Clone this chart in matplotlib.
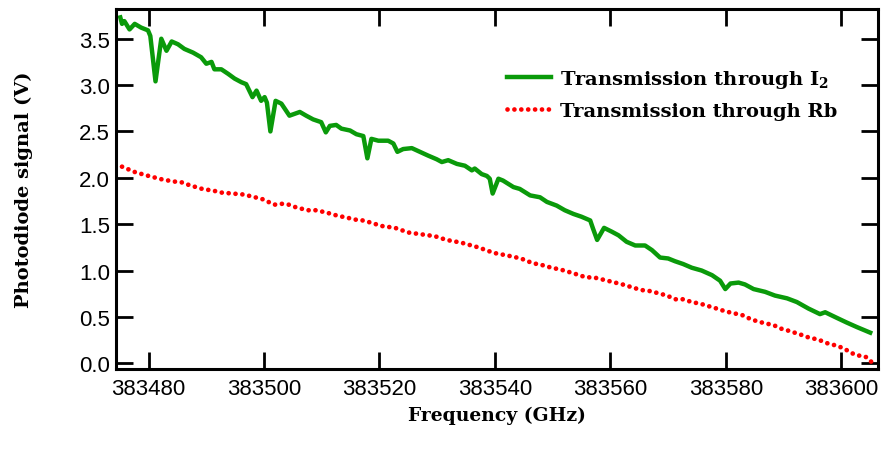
import matplotlib
matplotlib.use("Agg")
import matplotlib.pyplot as plt

# I2 transmission trace (GHz, V)
freq_i2 = [383475.1, 383475.4, 383475.8, 383476.7, 383477.6, 383478.7, 383479.9, 383480.3,
           383481.2, 383482.2, 383483.1, 383484.0, 383485.1, 383486.2, 383487.7, 383489.1,
           383490.0, 383490.9, 383491.4, 383492.6, 383493.8, 383494.9, 383496.1, 383496.9,
           383498.0, 383498.7, 383499.5, 383500.1, 383500.5, 383501.1, 383502.0, 383503.0,
           383504.4, 383506.2, 383507.3, 383508.5, 383509.9, 383510.7, 383511.4, 383512.5,
           383513.4, 383514.9, 383516.0, 383517.2, 383517.9, 383518.6, 383519.8, 383521.5,
           383522.4, 383523.1, 383524.1, 383525.6, 383527.0, 383528.4, 383529.9, 383530.8,
           383531.9, 383533.4, 383534.8, 383536.0, 383536.5, 383537.7, 383538.6, 383539.1,
           383539.6, 383540.6, 383541.4, 383543.2, 383544.3, 383546.1, 383547.8, 383549.0,
           383550.7, 383552.1, 383553.6, 383555.0, 383556.5, 383557.0, 383557.7, 383558.9,
           383560.2, 383561.4, 383562.8, 383564.3, 383566.0, 383567.2, 383568.6, 383570.0,
           383571.2, 383572.6, 383574.1, 383575.8, 383577.6, 383579.0, 383579.9, 383580.8,
           383582.2, 383583.3, 383584.8, 383586.8, 383588.5, 383590.6, 383592.3, 383594.3,
           383596.3, 383597.2, 383599.2, 383600.9, 383602.7, 383605.0]
sig_i2 = [3.73, 3.66, 3.69, 3.60, 3.66, 3.62, 3.59, 3.53,
          3.04, 3.50, 3.37, 3.47, 3.44, 3.39, 3.35, 3.30,
          3.23, 3.25, 3.17, 3.17, 3.12, 3.07, 3.03, 3.01,
          2.87, 2.94, 2.83, 2.87, 2.81, 2.50, 2.83, 2.80,
          2.67, 2.71, 2.67, 2.63, 2.60, 2.49, 2.56, 2.57,
          2.53, 2.51, 2.47, 2.45, 2.21, 2.42, 2.40, 2.40,
          2.37, 2.28, 2.31, 2.32, 2.28, 2.24, 2.20, 2.17,
          2.19, 2.15, 2.13, 2.08, 2.10, 2.04, 2.02, 1.99,
          1.83, 1.99, 1.97, 1.90, 1.88, 1.81, 1.79, 1.74,
          1.70, 1.65, 1.61, 1.58, 1.54, 1.45, 1.33, 1.46,
          1.42, 1.38, 1.31, 1.27, 1.27, 1.22, 1.14, 1.13,
          1.10, 1.07, 1.03, 1.00, 0.95, 0.89, 0.80, 0.86,
          0.87, 0.85, 0.80, 0.77, 0.73, 0.70, 0.66, 0.59,
          0.53, 0.55, 0.49, 0.44, 0.39, 0.33]

# Rb transmission trace (GHz, V)
freq_rb = [383475.4, 383477.7, 383480.0, 383482.5, 383484.4, 383485.8, 383487.1, 383489.3,
           383491.3, 383492.7, 383494.6, 383496.4, 383497.8, 383499.7, 383501.8, 383503.0,
           383504.3, 383505.6, 383507.6, 383509.1, 383511.1, 383512.8, 383514.4, 383515.7,
           383517.1, 383518.3, 383520.4, 383522.7, 383525.0, 383527.3, 383529.6, 383531.6,
           383534.2, 383537.1, 383539.8, 383542.3, 383544.5, 383546.5, 383548.1, 383549.8,
           383551.4, 383553.6, 383555.6, 383557.5, 383559.5, 383560.8, 383562.1, 383563.7,
           383565.3, 383566.7, 383568.0, 383569.8, 383571.2, 383572.6, 383574.1, 383575.7,
           383577.3, 383578.4, 383579.9, 383581.3, 383582.8, 383584.5, 383586.2, 383588.3,
           383589.7, 383590.9, 383592.9, 383594.7, 383595.8, 383597.8, 383599.2, 383600.4,
           383602.4, 383604.2, 383605.3]
sig_rb = [2.12, 2.06, 2.02, 1.98, 1.96, 1.95, 1.92, 1.88,
          1.86, 1.84, 1.83, 1.82, 1.80, 1.77, 1.71, 1.72,
          1.71, 1.68, 1.65, 1.65, 1.62, 1.59, 1.57, 1.55,
          1.54, 1.52, 1.48, 1.46, 1.41, 1.39, 1.37, 1.33,
          1.30, 1.25, 1.19, 1.16, 1.13, 1.08, 1.06, 1.03,
          1.01, 0.97, 0.93, 0.92, 0.89, 0.87, 0.85, 0.82,
          0.79, 0.78, 0.76, 0.73, 0.69, 0.69, 0.66, 0.64,
          0.61, 0.59, 0.56, 0.54, 0.52, 0.47, 0.44, 0.41,
          0.37, 0.35, 0.31, 0.27, 0.26, 0.21, 0.19, 0.16,
          0.09, 0.07, 0.01]

xticks = [383480, 383500, 383520, 383540, 383560, 383580, 383600]
yticks = [0.0, 0.5, 1.0, 1.5, 2.0, 2.5, 3.0, 3.5]

plt.rcParams['mathtext.fontset'] = 'dejavuserif'

fig = plt.figure(figsize=(8.83, 4.56), dpi=100)
ax = fig.add_axes([0.131, 0.189, 0.863, 0.789])

ax.plot(freq_i2, sig_i2, color='#0a9a0a', lw=3.2, solid_joinstyle='round',
        label=r'Transmission through I$_\mathbf{2}$')
ax.plot(freq_rb, sig_rb, color='#ff0000', lw=3.4, linestyle=(0, (0.01, 1.45)),
        dash_capstyle='round', label='Transmission through Rb')

ax.set_xlim(383474.3, 383606.3)
ax.set_ylim(-0.06, 3.82)
ax.set_xticks(xticks)
ax.set_yticks(yticks)
ax.set_xticklabels([str(t) for t in xticks])
ax.set_yticklabels(['%.1f' % t for t in yticks])

for s in ax.spines.values():
    s.set_linewidth(2.2)
ax.tick_params(direction='in', length=12, width=2.0, top=True, right=True,
               labelsize=16)
ax.tick_params(axis='x', pad=6.5)
ax.tick_params(axis='y', pad=4)
for lab in ax.get_xticklabels() + ax.get_yticklabels():
    lab.set_family('Liberation Sans')

ax.set_xlabel('Frequency (GHz)', family='DejaVu Serif', fontweight='bold',
              fontsize=13.5, labelpad=5)
ax.set_ylabel('Photodiode signal (V)', family='DejaVu Serif', fontweight='bold',
              fontsize=14, labelpad=33)

leg = ax.legend(loc='upper left', bbox_to_anchor=(0.49, 0.885), frameon=False,
                prop={'family': 'DejaVu Serif', 'weight': 'bold', 'size': 14},
                handlelength=2.3, handletextpad=0.45, labelspacing=0.6)

fig.savefig('out.png', dpi=100)
